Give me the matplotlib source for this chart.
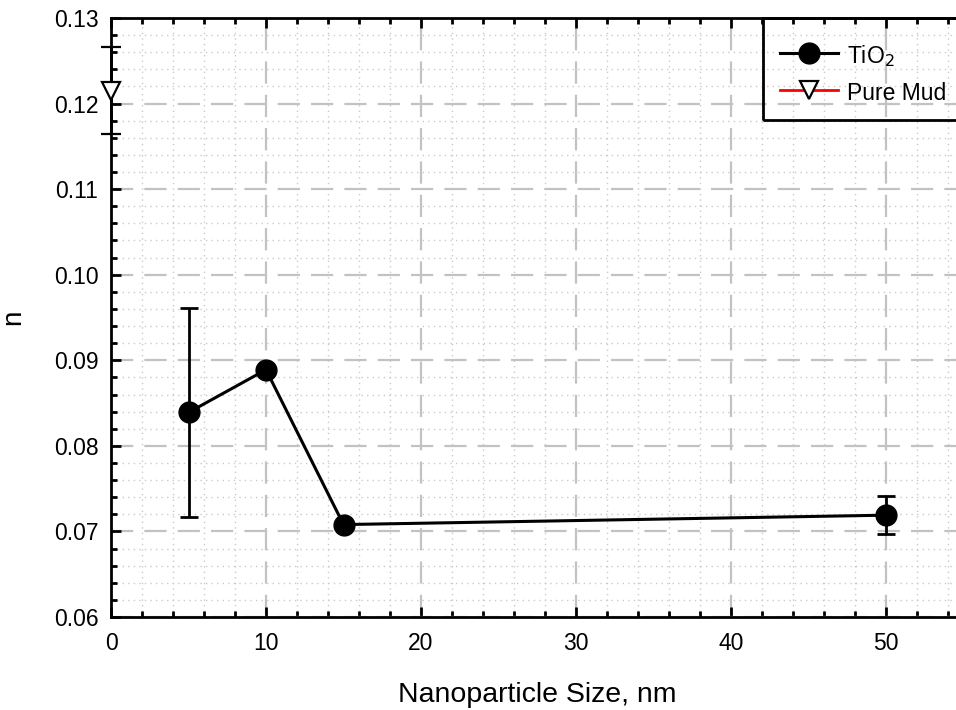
import matplotlib
matplotlib.use("Agg")
import matplotlib.pyplot as plt
from matplotlib.ticker import MultipleLocator
from matplotlib.patches import Rectangle

plt.rcParams['font.family'] = ['Liberation Sans', 'DejaVu Sans']

tio2_x = [5, 10, 15, 50]
tio2_y = [0.0839, 0.0889, 0.0708, 0.0719]
tio2_err = [0.0122, 0.0, 0.0, 0.0022]

mud_x = [0]
mud_y = [0.1215]
mud_err = [0.0051]

fig = plt.figure(figsize=(9.56, 7.10), dpi=100)
W, H = 956, 710
ax = fig.add_axes([111 / W, 93 / H, 852.5 / W, 599 / H])

ax.set_xlim(0, 55)
ax.set_ylim(0.06, 0.13)

ax.xaxis.set_major_locator(MultipleLocator(10))
ax.xaxis.set_minor_locator(MultipleLocator(2))
ax.yaxis.set_major_locator(MultipleLocator(0.01))
ax.yaxis.set_minor_locator(MultipleLocator(0.002))
ax.yaxis.set_major_formatter(plt.FuncFormatter(lambda v, p: f"{v:.2f}"))

ax.grid(which='major', color='#c2c2c2', linestyle=(0, (10, 5)), linewidth=1.6)
ax.grid(which='minor', color='#cacaca', linestyle=(0, (1, 3)), linewidth=1.0)
ax.set_axisbelow(True)

ax.tick_params(which='both', direction='in', top=True, right=False, width=2)
ax.tick_params(which='major', length=7, labelsize=16.5, pad=9)
ax.tick_params(axis='x', which='major', pad=11)
ax.tick_params(which='minor', length=4)
for s in ax.spines.values():
    s.set_linewidth(2)

ax.errorbar(tio2_x, tio2_y, yerr=tio2_err, color='black', marker='o', markersize=15,
            linewidth=2.2, elinewidth=2, capsize=6.5, capthick=2, label='TiO$_2$',
            zorder=5, clip_on=False)
ax.errorbar(mud_x, mud_y, yerr=mud_err, color='red', marker='v', markersize=13,
            markerfacecolor='white', markeredgecolor='black', markeredgewidth=1.6,
            ecolor='black', elinewidth=2, capsize=7, capthick=2, linewidth=2,
            label='Pure Mud', zorder=6, clip_on=False)

ax.set_xlabel('Nanoparticle Size, nm', fontsize=20.5, labelpad=19)
ax.set_ylabel('n', fontsize=20)
ax.yaxis.set_label_coords(-0.1, 0.5)

# legend frame (box extends past the right edge of the figure)
ax.add_patch(Rectangle((0.765, 0.830), 0.3, 0.170, transform=ax.transAxes,
                       facecolor='none', edgecolor='black', linewidth=2,
                       clip_on=False, zorder=7))

handles, labels = ax.get_legend_handles_labels()
handles = [h[0] for h in handles]
leg = ax.legend(handles, labels, loc='upper left', bbox_to_anchor=(0.765, 1.0 - 8 / 599),
                borderaxespad=0, fontsize=16.5, handlelength=2.5,
                handleheight=1.2, handletextpad=0.4, labelspacing=0.5, borderpad=0.75,
                frameon=False)

fig.savefig('out.png', dpi=100)
